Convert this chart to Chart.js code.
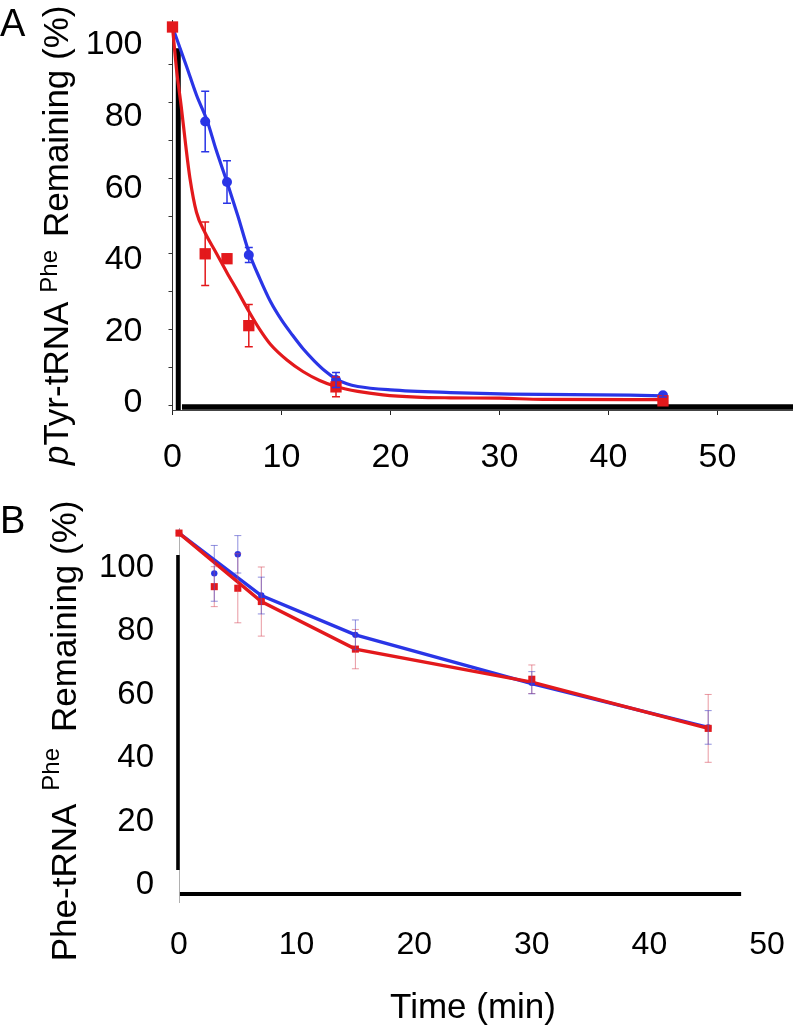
<!DOCTYPE html>
<html>
<head>
<meta charset="utf-8">
<script src="https://cdn.jsdelivr.net/npm/chart.js@4.4.1/dist/chart.umd.min.js"></script>
<style>
  html, body { margin: 0; padding: 0; background: #fff; }
  body { width: 793px; height: 1027px; position: relative; overflow: hidden; }
  .panel { position: absolute; left: 0; width: 793px; }
  #wrapA { top: 0; height: 490px; }
  #wrapB { top: 490px; height: 536px; }
</style>
</head>
<body>
<div class="panel" id="wrapA"><canvas id="chartA"></canvas></div>
<div class="panel" id="wrapB"><canvas id="chartB"></canvas></div>
<script>
// ---- panel A : pTyr-tRNA(Phe) ----
const timesA = [0, 3, 5, 7, 15, 45]
const blueA = [100, 75, 59, 39.7, 6.6, 2.6]
const blueErrA = [0, 8, 5.6, 2, 2, 0.5]
const redA = [100, 40, 38.7, 21, 4.8, 1.1]
const redErrA = [0, 8.4, 1.2, 5.6, 2.6, 0.5]

// fitted curves
const blueFitTimesA = [0, 1.3, 2.2, 3.2, 4, 5, 6, 7, 8, 9, 10, 11, 12, 13, 14, 15, 16, 17, 20, 25.5, 31, 42, 45]
const blueFitA = [100, 89.5, 82, 75, 67.5, 59, 50, 40.5, 33.5, 27.3, 22.5, 18.5, 14.8, 11.7, 9, 6.9, 5.6, 4.9, 4.0, 3.3, 2.9, 2.6, 2.4]
const redFitTimesA = [0, 0.4, 0.8, 1.2, 1.6, 2.2, 3, 4, 5, 6, 7, 8, 9, 10.5, 12, 13.5, 15, 17, 19.3, 22.4, 25.5, 30, 34, 45]
const redFitA = [100, 88, 79, 69, 60, 51, 45.5, 40.3, 35, 30, 24.8, 20, 16, 11.9, 8.8, 6.5, 4.9, 3.6, 2.7, 2.1, 1.9, 1.8, 1.5, 1.4]

const xTicksA = [0, 10, 20, 30, 40, 50]
const yTicksA = [0, 20, 40, 60, 80, 100]
const yMinorTicksA = [0, 10, 20, 30, 40, 50, 60, 70, 80, 90, 100]

// ---- panel B : Phe-tRNA(Phe) ----
const timesB = [0, 3, 5, 7, 15, 30, 45]
const blueB = [111, 98.3, 104.3, 91.3, 78.9, 63.8, 49.7]
const blueErrB = [0, 8.8, 5.9, 5.8, 4.7, 3.5, 5.3]
const redB = [111, 94.1, 93.6, 89.4, 74.4, 64.9, 49.4]
const redErrB = [0, 6.3, 10.9, 10.9, 6.2, 4.5, 10.7]

const lineTimesB = [0, 7, 15, 30, 45]
const blueLineB = [111, 91.3, 78.9, 63.5, 49.7]
const redLineB = [111, 89.4, 74.4, 64, 49.4]

const xTicksB = [0, 10, 20, 30, 40, 50]
const yTicksB = [0, 20, 40, 60, 80, 100]

const BLUE = '#2a35e6'
const RED = '#e3191c'
const FONT = '"Liberation Sans", Arial, Helvetica, sans-serif'

const pts = (xs, ys) => xs.map((x, i) => ({ x: x, y: ys[i] }))
const setTicks = list => scale => { scale.ticks = list.map(v => ({ value: v })) }

// error bars drawn from dataset.errors
const errorBars = {
  id: 'errorBars',
  afterDatasetsDraw(chart) {
    const ctx = chart.ctx
    chart.data.datasets.forEach((ds, i) => {
      if (!ds.errors) return
      const meta = chart.getDatasetMeta(i)
      const yScale = chart.scales[meta.yAxisID]
      ctx.save()
      ctx.strokeStyle = ds.errorColor
      ctx.lineWidth = ds.errorWidth
      meta.data.forEach((pt, j) => {
        const e = ds.errors[j]
        if (!e) return
        const v = ds.data[j].y
        const top = yScale.getPixelForValue(v + e)
        const bot = yScale.getPixelForValue(v - e)
        const c = ds.errorCap
        ctx.beginPath()
        ctx.moveTo(pt.x, top); ctx.lineTo(pt.x, bot)
        ctx.moveTo(pt.x - c, top); ctx.lineTo(pt.x + c, top)
        ctx.moveTo(pt.x - c, bot); ctx.lineTo(pt.x + c, bot)
        ctx.stroke()
      })
      ctx.restore()
    })
  }
}

// heavy black axis strokes of the original figure
const frame = {
  id: 'frame',
  beforeDatasetsDraw(chart, args, opts) {
    const ctx = chart.ctx
    const xs = chart.scales.x, ys = chart.scales.y
    ctx.save()
    ctx.strokeStyle = '#000'
    opts.lines.forEach(l => {
      ctx.lineWidth = l.width
      ctx.beginPath()
      ctx.moveTo(xs.getPixelForValue(l.x1), l.y1 === 'bottom' ? chart.chartArea.bottom : ys.getPixelForValue(l.y1))
      ctx.lineTo(xs.getPixelForValue(l.x2), l.y2 === 'bottom' ? chart.chartArea.bottom : ys.getPixelForValue(l.y2))
      ctx.stroke()
    })
    ctx.restore()
  }
}

// rotated y title with superscript, plus panel letter
const yTitle = {
  id: 'yTitle',
  afterDraw(chart, args, opts) {
    const ctx = chart.ctx
    ctx.save()
    ctx.fillStyle = '#000'
    ctx.font = '38px ' + FONT
    ctx.textBaseline = 'alphabetic'
    ctx.textAlign = 'left'
    ctx.fillText(opts.letter, opts.letterX, opts.letterY)

    // measure everything before the anchor part
    let before = 0
    for (let i = 0; i < opts.anchor; i++) {
      const p = opts.parts[i]
      ctx.font = p.font
      before += (p.gap || 0) + ctx.measureText(p.text).width
    }
    before += opts.parts[opts.anchor].gap || 0
    ctx.translate(opts.x, opts.y)
    ctx.rotate(-Math.PI / 2)
    let pos = -before
    opts.parts.forEach(p => {
      pos += p.gap || 0
      ctx.font = p.font
      ctx.fillText(p.text, pos, -(p.raise || 0))
      pos += ctx.measureText(p.text).width
    })
    ctx.restore()
  }
}

const chartA = new Chart(document.getElementById('chartA'), {
  type: 'scatter',
  data: {
    datasets: [
      {
        data: pts(timesA, redA), errors: redErrA, errorColor: RED, errorWidth: 1.5, errorCap: 4,
        pointStyle: 'rect', pointRadius: 8, backgroundColor: RED, borderColor: RED, borderWidth: 0, clip: false
      },
      {
        data: pts(timesA, blueA), errors: blueErrA, errorColor: BLUE, errorWidth: 1.5, errorCap: 4,
        pointStyle: 'circle', pointRadius: 5, backgroundColor: BLUE, borderColor: BLUE, borderWidth: 0, clip: false
      },
      {
        data: pts(redFitTimesA, redFitA), showLine: true, pointRadius: 0, borderColor: RED, borderWidth: 3.2,
        cubicInterpolationMode: 'monotone', clip: false
      },
      {
        data: pts(blueFitTimesA, blueFitA), showLine: true, pointRadius: 0, borderColor: BLUE, borderWidth: 3.2,
        cubicInterpolationMode: 'monotone', clip: false
      }
    ]
  },
  options: {
    animation: false,
    responsive: true,
    maintainAspectRatio: false,
    devicePixelRatio: 1,
    layout: { padding: { top: 20, right: 0, bottom: 0, left: 0 }, autoPadding: false },
    plugins: {
      legend: { display: false },
      tooltip: { enabled: false },
      frame: {
        lines: [
          { x1: 0.53, y1: 94.4, x2: 0.53, y2: 'bottom', width: 5 },
          { x1: 0.87, y1: -0.53, x2: 56.93, y2: -0.53, width: 5.5 }
        ]
      },
      yTitle: {
        letter: 'A', letterX: 0, letterY: 36,
        x: 68, y: 237, anchor: 4,
        parts: [
          { text: 'p', font: 'italic 35px ' + FONT },
          { text: 'Tyr-tRNA', font: '35px ' + FONT },
          { text: 'Phe', font: '24px ' + FONT, raise: 11, gap: 9 },
          { text: '', font: '35px ' + FONT },
          { text: 'Remaining (%)', font: '35px ' + FONT, gap: 13 }
        ]
      }
    },
    scales: {
      x: {
        type: 'linear', min: 0, max: 56.93,
        afterBuildTicks: setTicks(xTicksA),
        afterFit: s => { s.height = 80; s.paddingLeft = 0; s.paddingRight = 0 },
        grid: { drawOnChartArea: false, drawTicks: true, tickLength: 5, color: '#222', lineWidth: 1 },
        border: { display: true, color: '#444', width: 1 },
        ticks: { font: { family: FONT, size: 34 }, color: '#000', padding: 22, maxRotation: 0 }
      },
      y: {
        type: 'linear', position: 'left', weight: 0, min: -1.32, max: 101.85,
        afterBuildTicks: setTicks(yMinorTicksA),
        afterFit: s => { s.width = 6; s.paddingTop = 0; s.paddingBottom = 0 },
        grid: { drawOnChartArea: false, drawTicks: true, tickLength: 4, color: '#333', lineWidth: 1 },
        border: { display: true, color: '#333', width: 1 },
        ticks: { display: false }
      },
      yl: {
        type: 'linear', axis: 'y', position: 'left', weight: 1, min: -1.955, max: 106.98,
        afterBuildTicks: setTicks(yTicksA),
        afterFit: s => { s.width = 166.5; s.paddingTop = 0; s.paddingBottom = 0 },
        grid: { display: false, drawTicks: false, tickLength: 0 },
        border: { display: false },
        ticks: { font: { family: FONT, size: 34 }, color: '#000', padding: 24 }
      }
    }
  },
  plugins: [frame, errorBars, yTitle]
})

const chartB = new Chart(document.getElementById('chartB'), {
  type: 'scatter',
  data: {
    datasets: [
      {
        data: pts(timesB, redB), errors: redErrB, errorColor: 'rgba(215, 70, 85, 0.55)', errorWidth: 1, errorCap: 3.5,
        pointStyle: 'rect', pointRadius: 5, backgroundColor: RED, borderColor: RED, borderWidth: 0, clip: false
      },
      {
        data: pts(timesB, blueB), errors: blueErrB, errorColor: 'rgba(70, 70, 200, 0.6)', errorWidth: 1, errorCap: 3.5,
        pointStyle: 'circle', pointRadius: 3.2, backgroundColor: BLUE, borderColor: BLUE, borderWidth: 0, clip: false
      },
      {
        data: pts(lineTimesB, redLineB), showLine: true, pointRadius: 0, borderColor: RED, borderWidth: 3.4,
        tension: 0, clip: false
      },
      {
        data: pts(lineTimesB, blueLineB), showLine: true, pointRadius: 0, borderColor: BLUE, borderWidth: 3.4,
        tension: 0, clip: false
      }
    ]
  },
  options: {
    animation: false,
    responsive: true,
    maintainAspectRatio: false,
    devicePixelRatio: 1,
    layout: { padding: { top: 38, right: 26, bottom: 0, left: 0 }, autoPadding: false },
    plugins: {
      legend: { display: false },
      tooltip: { enabled: false },
      frame: {
        lines: [
          { x1: -0.09, y1: 104.1, x2: -0.09, y2: 4.7, width: 3.5 },
          { x1: 0.08, y1: -2.84, x2: 47.8, y2: -2.84, width: 4 }
        ]
      },
      yTitle: {
        letter: 'B', letterX: 0, letterY: 43,
        x: 76, y: 242, anchor: 3,
        parts: [
          { text: 'Phe-tRNA', font: '35px ' + FONT },
          { text: 'Phe', font: '24px ' + FONT, raise: 17, gap: 13 },
          { text: '', font: '35px ' + FONT },
          { text: 'Remaining (%)', font: '35px ' + FONT, gap: 16 }
        ]
      }
    },
    scales: {
      x: {
        type: 'linear', min: 0, max: 50,
        afterBuildTicks: setTicks(xTicksB),
        afterFit: s => { s.height = 124; s.paddingLeft = 0; s.paddingRight = 0 },
        grid: { display: false, drawTicks: false, tickLength: 0 },
        border: { display: false },
        ticks: { font: { family: FONT, size: 32 }, color: '#000', padding: 24, maxRotation: 0 },
        title: {
          display: true, text: 'Time (min)', color: '#000',
          font: { family: FONT, size: 35, lineHeight: 1 }, padding: 0
        }
      },
      y: {
        type: 'linear', position: 'left', min: -5.36, max: 112.6,
        afterBuildTicks: setTicks(yTicksB),
        afterFit: s => { s.width = 179; s.paddingTop = 0; s.paddingBottom = 0 },
        grid: { display: false, drawTicks: false, tickLength: 0 },
        border: { display: true, color: '#b0b0b0', width: 1 },
        ticks: { font: { family: FONT, size: 33 }, color: '#000', padding: 25 }
      }
    }
  },
  plugins: [frame, errorBars, yTitle]
})
</script>
</body>
</html>
